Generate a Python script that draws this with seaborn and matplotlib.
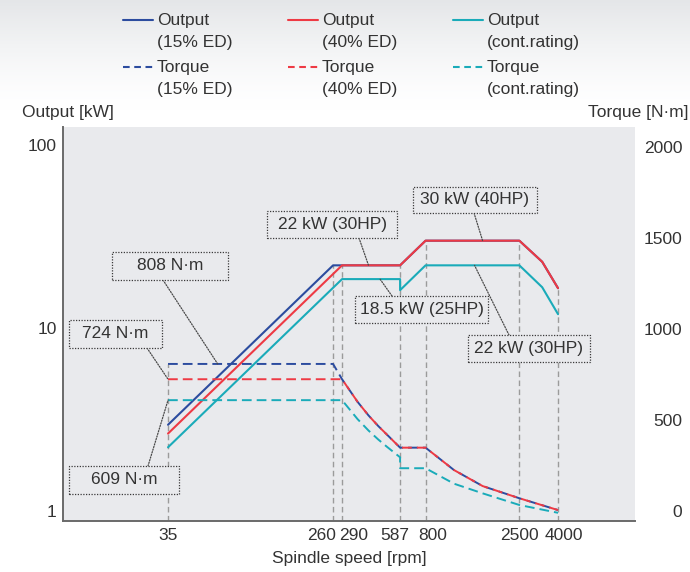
import numpy as np
import pandas as pd
import matplotlib
matplotlib.use("Agg")
import matplotlib.pyplot as plt
from matplotlib.patches import Rectangle, ConnectionPatch
from matplotlib.lines import Line2D
from matplotlib.transforms import ScaledTranslation
import seaborn as sns

# ---- data -------------------------------------------------------------
# Output [kW] versus spindle speed [rpm]
speed_out_15 = [35, 260, 290, 587, 800, 2500, 3300, 4000]
output_15 = [2.96, 22, 22, 22, 30, 30, 23, 16.5]
speed_out_40 = [35, 290, 587, 800, 2500, 3300, 4000]
output_40 = [2.65, 22, 22, 30, 30, 23, 16.5]
speed_out_cont = [35, 290, 587, 587, 800, 2500, 3300, 4000]
output_cont = [2.23, 18.5, 18.5, 16.1, 22, 22, 16.7, 11.9]

# Torque [N·m] versus spindle speed [rpm]
speed_tq_15 = [35, 260, 290, 350, 400, 450, 500, 587, 800, 1130, 1600, 2500, 4000]
torque_15 = [808, 808, 724, 600, 525, 467, 420, 348, 348, 225, 137, 70, 5]
speed_tq_40 = [35, 290, 350, 400, 450, 500, 587, 800, 1130, 1600, 2500, 4000]
torque_40 = [724, 724, 600, 525, 467, 420, 348, 348, 225, 137, 70, 5]
speed_tq_cont = [35, 290, 350, 400, 450, 500, 587, 587, 800, 1130, 1600, 2500, 4000]
torque_cont = [609, 609, 505, 442, 393, 353, 295, 235, 235, 150, 97, 33, -10]

speed_ticks = [35, 260, 290, 587, 800, 2500, 4000]
output_ticks = [1, 10, 100]
torque_ticks = [0, 500, 1000, 1500, 2000]

legend_labels = ["Output\n(15% ED)", "Torque\n(15% ED)",
                 "Output\n(40% ED)", "Torque\n(40% ED)",
                 "Output\n(cont.rating)", "Torque\n(cont.rating)"]

# callout texts and the curve point each one refers to
callout_labels = ["808 N·m", "724 N·m", "609 N·m", "22 kW (30HP)",
                  "18.5 kW (25HP)", "30 kW (40HP)", "22 kW (30HP)"]
callout_speed = [64, 35, 35, 400, 460, 1600, 1450]
callout_value = [808, 724, 609, 22, 18.5, 30, 22]
callout_axis = ["torque", "torque", "torque", "output", "output", "output", "output"]

# ---- style ------------------------------------------------------------
sns.set_style("white")
plt.rcParams["font.family"] = ["Liberation Sans", "DejaVu Sans"]
plt.rcParams["text.color"] = "#333333"
FS = 12.5

BLUE = "#2c4c9f"
RED = "#ee3a44"
CYAN = "#1aabb9"
AX_BG = "#e9eaed"
GUIDE = "#9b9b9b"

W, H = 690, 572
fig = plt.figure(figsize=(W / 100, H / 100), dpi=100)


def fx(px):
    return px / W


def fy(py):
    return 1 - py / H


# soft grey band fading into white at the top of the sheet
bg = fig.add_axes([0, 0, 1, 1], zorder=-5)
bg.axis("off")
rows = np.linspace(0, 1, 300)
shade = np.clip(1 - rows / 0.19, 0, 1) ** 1.4
top = np.array([0.895, 0.903, 0.912])
img = 1 - shade[:, None] * (1 - top[None, :])
bg.imshow(img[:, None, :], aspect="auto", extent=[0, 1, 0, 1], origin="upper")
bg.set_xlim(0, 1)
bg.set_ylim(0, 1)

ax = fig.add_axes([fx(63), fy(521), fx(635) - fx(63), fy(127) - fy(521)])
ax.set_facecolor(AX_BG)
ax2 = ax.twinx()

ax.set_xscale("log")
ax.set_yscale("log")
ax.set_xlim(9.77, 10190)
ax.set_ylim(0.882, 125.4)
ax2.set_ylim(-55, 2110)

# output curves (left, log scale)
for xs, ys, c in [(speed_out_15, output_15, BLUE),
                  (speed_out_40, output_40, RED),
                  (speed_out_cont, output_cont, CYAN)]:
    sns.lineplot(x=xs, y=ys, ax=ax, color=c, lw=1.5, estimator=None,
                 sort=False, zorder=4)

# torque curves (right, linear scale)
for xs, ys, c in [(speed_tq_15, torque_15, BLUE),
                  (speed_tq_40, torque_40, RED),
                  (speed_tq_cont, torque_cont, CYAN)]:
    sns.lineplot(x=xs, y=ys, ax=ax2, color=c, lw=1.4, estimator=None,
                 sort=False, dashes=False, zorder=4)
    ax2.lines[-1].set_dashes((5, 2.6))

# vertical guides at the corner speeds, up to the highest curve there
fig.canvas.draw()
out_sets = [(speed_out_15, output_15), (speed_out_40, output_40),
            (speed_out_cont, output_cont)]
tq_sets = [(speed_tq_15, torque_15), (speed_tq_40, torque_40),
           (speed_tq_cont, torque_cont)]
y0_disp = ax.transAxes.transform((0, 0))[1]
y1_disp = ax.transAxes.transform((0, 1))[1]
for s in speed_ticks:
    tops = []
    for xs, ys in out_sets:
        tops += [ax.transData.transform((s, v))[1] for x, v in zip(xs, ys) if x == s]
    for xs, ys in tq_sets:
        tops += [ax2.transData.transform((s, v))[1] for x, v in zip(xs, ys) if x == s]
    frac = (max(tops) - y0_disp) / (y1_disp - y0_disp)
    ax.axvline(s, ymin=0, ymax=frac, color=GUIDE, lw=1.0, dashes=(4, 2.5), zorder=1)

# axes and ticks
ax.set_xticks(speed_ticks)
ax.set_xticklabels([str(s) for s in speed_ticks])
ax.xaxis.set_minor_locator(matplotlib.ticker.NullLocator())
ax.set_yticks(output_ticks)
ax.set_yticklabels([str(v) for v in output_ticks])
ax.yaxis.set_minor_locator(matplotlib.ticker.NullLocator())
ax2.set_yticks(torque_ticks)
ax2.set_yticklabels([str(v) for v in torque_ticks])
ax.tick_params(axis="x", length=0, pad=5, labelsize=FS, labelcolor="#333333")
ax.tick_params(axis="y", length=0, pad=4.5, labelsize=FS, labelcolor="#333333")
ax2.tick_params(axis="y", length=0, pad=34, labelsize=FS, labelcolor="#333333")
for lab in ax2.get_yticklabels():
    lab.set_horizontalalignment("right")

# nudge crowded speed labels apart (pixel offsets)
label_shift = {260: -12, 290: 12, 587: -5, 800: 7, 4000: 6}
for s, lab in zip(speed_ticks, ax.get_xticklabels()):
    dx = label_shift.get(s, 0)
    if dx:
        lab.set_transform(lab.get_transform() +
                          ScaledTranslation(dx / 100, 0, fig.dpi_scale_trans))

for name in ["top", "right"]:
    ax.spines[name].set_visible(False)
for name in ["top", "right", "left", "bottom"]:
    ax2.spines[name].set_visible(False)
for name in ["left", "bottom"]:
    ax.spines[name].set_color("#6a6a6a")
    ax.spines[name].set_linewidth(1.4)
ax.grid(False)
ax2.grid(False)

ax.set_xlabel("Spindle speed [rpm]", fontsize=FS, labelpad=6, color="#333333")
ax.set_ylabel("")
ax2.set_ylabel("")
fig.text(fx(22), fy(112), "Output [kW]", fontsize=FS, va="center", ha="left")
fig.text(fx(688), fy(112), "Torque [N·m]", fontsize=FS, va="center", ha="right")

# legend: three columns, output on the first row, torque on the second
col_x = [123, 288, 453]
row_y = [20, 67]
colors = [BLUE, BLUE, RED, RED, CYAN, CYAN]
for i, (lab, c) in enumerate(zip(legend_labels, colors)):
    cx = col_x[i // 2]
    ry = row_y[i % 2]
    ln = Line2D([fx(cx), fx(cx + 30)], [fy(ry), fy(ry)], transform=fig.transFigure,
                color=c, lw=1.5)
    if i % 2 == 1:
        ln.set_dashes((3.2, 2.2))
    fig.add_artist(ln)
    fig.text(fx(cx + 34), fy(ry - 7), lab, fontsize=FS, va="top", ha="left",
             linespacing=1.6)

# callout boxes with dotted leaders
boxes = [(112, 252, 228, 280), (69, 320, 162, 348), (69, 466, 179, 494),
         (267, 211, 397, 238), (355, 296, 488, 323), (413, 187, 537, 213),
         (468, 335, 590, 362)]
anchors = [(163, 280), (147, 348), (148, 466), (359, 238), (392, 296),
           (474, 213), (509, 335)]
for lab, s, v, which, (x0, y0, x1, y1), (axp, ayp) in zip(
        callout_labels, callout_speed, callout_value, callout_axis, boxes, anchors):
    target_ax = ax2 if which == "torque" else ax
    leader = ConnectionPatch(xyA=(fx(axp), fy(ayp)), coordsA=fig.transFigure,
                             xyB=(s, v), coordsB=target_ax.transData,
                             color="#4a4a4a", lw=0.9, linestyle=(0, (1, 1.2)),
                             zorder=6)
    fig.add_artist(leader)
    rect = Rectangle((fx(x0), fy(y1)), fx(x1) - fx(x0), fy(y0) - fy(y1),
                     transform=fig.transFigure, facecolor=AX_BG,
                     edgecolor="#3a3a3a", lw=0.9, linestyle=(0, (1, 1.2)),
                     zorder=7)
    fig.add_artist(rect)
    fig.text(fx((x0 + x1) / 2), fy((y0 + y1) / 2), lab, fontsize=FS,
             ha="center", va="center", zorder=8)

fig.savefig("out.png", dpi=100)
